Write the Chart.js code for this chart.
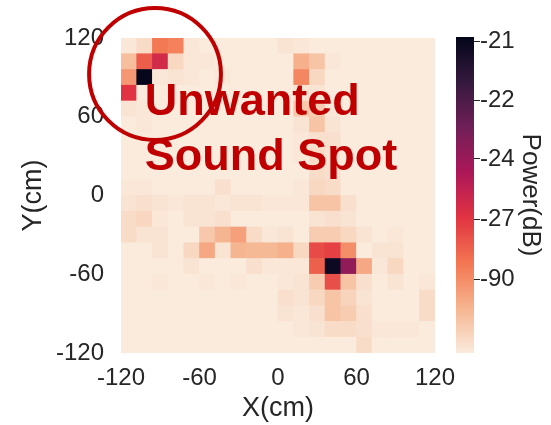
<!DOCTYPE html>
<html>
<head>
<meta charset="utf-8">
<title>Sound power map</title>
<script src="https://cdn.jsdelivr.net/npm/chart.js@4.4.0/dist/chart.umd.min.js"></script>
<style>
  body { margin: 0; background: #fff; }
  #wrap { position: relative; width: 551px; height: 425px; }
  #wrap canvas { position: absolute; top: 0; }
  #heat { left: 0; }
  #bar { left: 445px; }
</style>
</head>
<body>
<div id="wrap">
  <canvas id="heat" width="551" height="425"></canvas>
  <canvas id="bar" width="106" height="425"></canvas>
</div>
<script>
// cell centres (cm), 12 cm grid
const xCm = [-114, -102, -90, -78, -66, -54, -42, -30, -18, -6, 6, 18, 30, 42, 54, 66, 78, 90, 102, 114];
const yCm = [114, 102, 90, 78, 66, 54, 42, 30, 18, 6, -6, -18, -30, -42, -54, -66, -78, -90, -102, -114];

// normalised power level per cell (0 = quietest, 1 = loudest), rows top to bottom
const power = [
  [0.01, 0.04, 0.28, 0.26, 0.01, 0, 0, 0, 0, 0, 0.02, 0.01, 0, 0, 0, 0, 0, 0, 0, 0],
  [0.115, 0.34, 0.47, 0.05, 0.01, 0.01, 0, 0, 0, 0, 0, 0.15, 0.10, 0.01, 0, 0, 0, 0, 0, 0],
  [0.21, 0.99, 0.01, 0.02, 0.01, 0, 0.01, 0, 0, 0, 0, 0.25, 0.05, 0, 0, 0, 0, 0, 0, 0],
  [0.43, 0, 0, 0, 0, 0, 0, 0, 0, 0, 0, 0.02, 0.02, 0, 0, 0, 0, 0, 0, 0],
  [0.02, 0.01, 0, 0, 0, 0, 0, 0, 0, 0, 0, 0.09, 0.08, 0.01, 0, 0, 0, 0, 0, 0],
  [0, 0.01, 0, 0, 0, 0, 0, 0, 0, 0, 0, 0.02, 0.10, 0.02, 0, 0, 0, 0, 0, 0],
  [0, 0, 0, 0, 0, 0, 0, 0, 0, 0, 0, 0.01, 0.03, 0.03, 0, 0, 0, 0, 0, 0],
  [0, 0, 0, 0, 0, 0, 0, 0, 0, 0, 0, 0.01, 0.04, 0.02, 0, 0, 0, 0, 0, 0],
  [0, 0, 0, 0, 0, 0, 0, 0, 0, 0, 0, 0, 0.04, 0.03, 0, 0, 0, 0, 0, 0],
  [0.01, 0.01, 0, 0, 0, 0, 0.03, 0, 0, 0, 0, 0.01, 0.05, 0.04, 0, 0, 0, 0, 0, 0],
  [0.02, 0.03, 0.02, 0.01, 0.02, 0.02, 0.01, 0.02, 0.02, 0.01, 0.01, 0.01, 0.10, 0.10, 0.03, 0, 0, 0, 0, 0],
  [0.04, 0.055, 0.01, 0, 0.02, 0.02, 0.03, 0, 0, 0, 0, 0, 0.02, 0.03, 0.02, 0, 0, 0, 0, 0],
  [0.04, 0.02, 0.02, 0, 0, 0.09, 0.14, 0.19, 0.04, 0.01, 0.02, 0, 0.08, 0.08, 0.05, 0.02, 0, 0.01, 0, 0],
  [0, 0, 0.02, 0, 0.05, 0.17, 0.02, 0.14, 0.13, 0.13, 0.15, 0.05, 0.38, 0.40, 0.23, 0, 0.02, 0.02, 0, 0],
  [0, 0, 0, 0, 0.02, 0, 0, 0, 0.03, 0.01, 0.01, 0.01, 0.33, 0.97, 0.64, 0.17, 0.01, 0.05, 0, 0],
  [0, 0, 0.01, 0, 0, 0.01, 0, 0.01, 0, 0, 0.01, 0.02, 0.08, 0.37, 0.10, 0.03, 0, 0.02, 0, 0.01],
  [0, 0, 0, 0, 0, 0, 0, 0, 0, 0, 0.03, 0.02, 0.05, 0.10, 0.06, 0.02, 0, 0, 0, 0.04],
  [0, 0, 0, 0, 0, 0, 0, 0, 0, 0, 0.02, 0.01, 0.03, 0.10, 0.08, 0.03, 0, 0, 0, 0.04],
  [0, 0, 0, 0, 0, 0, 0, 0, 0, 0, 0, 0.01, 0.02, 0.04, 0.04, 0.03, 0.01, 0.01, 0.01, 0],
  [0, 0, 0, 0, 0, 0, 0, 0, 0, 0, 0, 0, 0, 0, 0, 0.04, 0, 0, 0, 0]
];

const xTicks = [-120, -60, 0, 60, 120];
const yTicks = [-120, -60, 0, 60, 120];

// colour bar ticks: position on the bar (0..1) and the label printed there
const cbTickPos = [0.986, 0.799, 0.614, 0.422, 0.232];
const cbTickLabels = ['-21', '-22', '-24', '-27', '-90'];

// rocket_r colour map
const rocketStops = [
  [0, '#faebdd'], [0.143, '#f6b48f'], [0.286, '#f37651'], [0.429, '#e13342'],
  [0.571, '#ad1759'], [0.714, '#701f57'], [0.857, '#35193e'], [1, '#03051a']
];

function hexRgb(h) {
  return [parseInt(h.substr(1, 2), 16), parseInt(h.substr(3, 2), 16), parseInt(h.substr(5, 2), 16)];
}

function rocketR(v) {
  v = Math.max(0, Math.min(1, v));
  for (let i = 1; i < rocketStops.length; i++) {
    if (v <= rocketStops[i][0]) {
      const [p0, c0] = rocketStops[i - 1];
      const [p1, c1] = rocketStops[i];
      const t = (v - p0) / (p1 - p0);
      const a = hexRgb(c0), b = hexRgb(c1);
      const rgb = a.map((x, k) => Math.round(x + (b[k] - x) * t));
      return 'rgb(' + rgb.join(',') + ')';
    }
  }
  return rocketStops[rocketStops.length - 1][1];
}

Chart.defaults.font.family = '"Liberation Sans", Arial, sans-serif';
Chart.defaults.color = '#262626';

// build the cells as floating bars
const cells = [];
yCm.forEach((y, r) => {
  xCm.forEach((x, c) => {
    cells.push({ x: x, y: [y - 6, y + 6], v: power[r][c] });
  });
});

const annotation = {
  id: 'annotation',
  afterDraw(chart) {
    const { ctx, scales } = chart;
    const sx = scales.x, sy = scales.y;
    const cx = sx.getPixelForValue(-94);
    const cy = sy.getPixelForValue(92.6);
    const r = sx.getPixelForValue(-94 + 50.4) - cx;
    ctx.save();
    ctx.strokeStyle = '#c00000';
    ctx.lineWidth = 4;
    ctx.beginPath();
    ctx.arc(cx, cy, r, 0, Math.PI * 2);
    ctx.stroke();
    ctx.fillStyle = '#c00000';
    ctx.font = 'bold 45px "Liberation Sans", Arial, sans-serif';
    ctx.textAlign = 'left';
    ctx.textBaseline = 'alphabetic';
    const tx = sx.getPixelForValue(-101.9);
    ctx.fillText('Unwanted', tx, sy.getPixelForValue(61.3));
    ctx.fillText('Sound Spot', tx, sy.getPixelForValue(19.4));
    ctx.restore();
  }
};

new Chart(document.getElementById('heat'), {
  type: 'bar',
  data: {
    datasets: [{
      data: cells,
      backgroundColor: c => rocketR(c.raw ? c.raw.v : 0),
      borderWidth: 0,
      barPercentage: 1,
      categoryPercentage: 1
    }]
  },
  options: {
    responsive: false,
    animation: false,
    events: [],
    layout: { padding: { top: 38, right: 116, left: 0, bottom: 0 } },
    plugins: { legend: { display: false }, tooltip: { enabled: false } },
    scales: {
      x: {
        type: 'linear',
        min: -120,
        max: 120,
        offset: false,
        grid: { display: false, drawTicks: false, offset: false },
        border: { display: false },
        afterBuildTicks: s => { s.ticks = xTicks.map(v => ({ value: v })); },
        afterFit: s => { s.height = 72; },
        ticks: { font: { size: 24 }, padding: 11, autoSkip: false, maxRotation: 0 },
        title: { display: true, text: 'X(cm)', font: { size: 27 }, padding: { top: 0, bottom: 0 } }
      },
      y: {
        type: 'linear',
        min: -120,
        max: 120,
        grid: { display: false, drawTicks: false },
        border: { display: false },
        afterBuildTicks: s => { s.ticks = yTicks.map(v => ({ value: v })); },
        afterFit: s => { s.width = 121; },
        ticks: { font: { size: 24 }, padding: 17, autoSkip: false },
        title: { display: true, text: 'Y(cm)', font: { size: 27 }, padding: { top: 17, bottom: 0 } }
      }
    }
  },
  plugins: [annotation]
});

// colour bar
new Chart(document.getElementById('bar'), {
  type: 'bar',
  data: {
    labels: ['power'],
    datasets: [{
      data: [[0, 1]],
      borderWidth: 0,
      inflateAmount: 0,
      barPercentage: 1,
      categoryPercentage: 1,
      backgroundColor: c => {
        const area = c.chart.chartArea;
        if (!area) return null;
        const g = c.chart.ctx.createLinearGradient(0, area.bottom, 0, area.top);
        rocketStops.forEach(s => g.addColorStop(s[0], s[1]));
        return g;
      }
    }]
  },
  options: {
    responsive: false,
    animation: false,
    events: [],
    layout: { padding: { top: 37, right: 0, left: 11, bottom: 72 } },
    plugins: { legend: { display: false }, tooltip: { enabled: false } },
    scales: {
      x: { display: false },
      y: {
        position: 'right',
        min: 0,
        max: 1,
        grid: { drawOnChartArea: false, drawTicks: true, tickLength: 6, tickColor: '#262626' },
        border: { display: false },
        afterBuildTicks: s => { s.ticks = cbTickPos.map(v => ({ value: v })); },
        afterFit: s => { s.width = 77; },
        ticks: {
          font: { size: 24 },
          padding: 0,
          autoSkip: false,
          callback: (val, i) => cbTickLabels[i]
        },
        title: { display: true, text: 'Power(dB)', font: { size: 26 }, padding: { top: 5, bottom: 0 } }
      }
    }
  }
});
</script>
</body>
</html>
